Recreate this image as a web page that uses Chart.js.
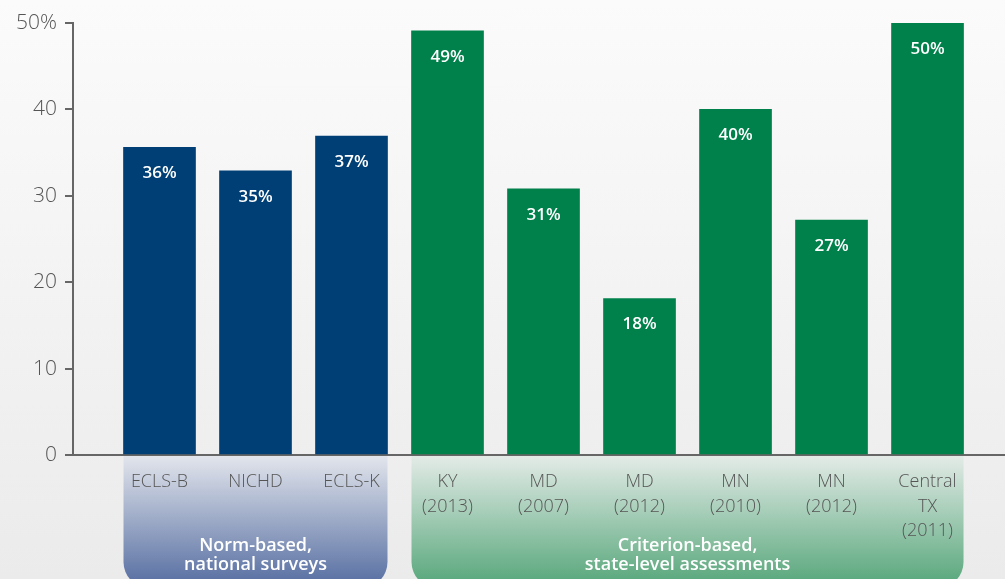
<!DOCTYPE html>
<html>
<head>
<meta charset="utf-8">
<script src="https://cdn.jsdelivr.net/npm/chart.js@4"></script>
<style>
  html, body { margin: 0; padding: 0; }
  body { width: 1005px; height: 579px; background: linear-gradient(#fbfbfb, #ebebeb); overflow: hidden; }
  #wrap { width: 1005px; height: 579px; }
</style>
</head>
<body>
<div id="wrap"><canvas id="chart"></canvas></div>
<script>
const categories = [
  ['ECLS-B'], ['NICHD'], ['ECLS-K'],
  ['KY', '(2013)'], ['MD', '(2007)'], ['MD', '(2012)'],
  ['MN', '(2010)'], ['MN', '(2012)'], ['Central', 'TX', '(2011)']
];
const values = [35.6, 32.9, 36.9, 49.1, 30.8, 18.1, 40.0, 27.2, 50.0];
const valueLabels = ['36%', '35%', '37%', '49%', '31%', '18%', '40%', '27%', '50%'];
const yTicks = [0, 10, 20, 30, 40, 50];
const groups = [
  { name: ['Norm-based,', 'national surveys'], from: 0, to: 2 },
  { name: ['Criterion-based,', 'state-level assessments'], from: 3, to: 8 }
];

const navy = '#003f75';
const green = '#00804a';
const font = '"Open Sans", Lato, sans-serif';

// boxes under the x axis for the two groups (drawn before the scales)
const groupBoxes = {
  id: 'groupBoxes',
  beforeDraw(chart) {
    const ctx = chart.ctx;
    const x = chart.scales.x;
    const top = chart.chartArea.bottom + 1;
    const half = 36;
    const colors = [['#e2e5ec', '#5d74a5'], ['#e3ebe7', '#5eaa80']];
    groups.forEach((g, i) => {
      const left = x.getPixelForValue(g.from) - half;
      const right = x.getPixelForValue(g.to) + half;
      const bottom = top + 132;
      const grad = ctx.createLinearGradient(0, top, 0, 579);
      grad.addColorStop(0, colors[i][0]);
      grad.addColorStop(1, colors[i][1]);
      ctx.save();
      ctx.fillStyle = grad;
      ctx.beginPath();
      ctx.roundRect(left, top, right - left, bottom - top, [0, 0, 26, 26]);
      ctx.fill();
      ctx.fillStyle = '#ffffff';
      ctx.font = '600 18px ' + font;
      ctx.textAlign = 'center';
      ctx.textBaseline = 'middle';
      g.name.forEach((line, j) => {
        ctx.fillText(line, (left + right) / 2, 546 + j * 19);
      });
      ctx.restore();
    });
  }
};

// percentage labels inside the bars
const barLabels = {
  id: 'barLabels',
  afterDatasetsDraw(chart) {
    const ctx = chart.ctx;
    ctx.save();
    ctx.fillStyle = '#ffffff';
    ctx.font = '600 17px ' + font;
    ctx.textAlign = 'center';
    ctx.textBaseline = 'middle';
    chart.getDatasetMeta(0).data.forEach((bar, i) => {
      ctx.fillText(valueLabels[i], bar.x, bar.y + 26);
    });
    ctx.restore();
  }
};

new Chart(document.getElementById('chart'), {
  type: 'bar',
  data: {
    datasets: [{
      data: values.map((v, i) => ({ x: i, y: v })),
      backgroundColor: values.map((v, i) => i < 3 ? navy : green),
      barThickness: 72,
      borderWidth: 0
    }]
  },
  options: {
    responsive: true,
    maintainAspectRatio: false,
    animation: false,
    layout: { padding: { top: 23, right: 0, left: 0, bottom: 0 } },
    plugins: { legend: { display: false }, tooltip: { enabled: false } },
    scales: {
      x: {
        type: 'linear',
        offset: false,
        min: -0.901,
        max: 8.807,
        afterBuildTicks: s => { s.ticks = categories.map((c, i) => ({ value: i })); },
        afterFit: s => { s.height = 124; },
        grid: { display: false, drawTicks: false },
        border: { display: true, color: '#666', width: 2 },
        ticks: {
          autoSkip: false,
          maxRotation: 0,
          padding: 15,
          color: '#555',
          font: { family: font, size: 18, weight: 300, lineHeight: 1.35 },
          callback: v => categories[v]
        }
      },
      y: {
        min: 0,
        max: 50,
        afterBuildTicks: s => { s.ticks = yTicks.map(v => ({ value: v })); },
        afterFit: s => { s.width = 73; },
        grid: { drawOnChartArea: false, drawTicks: true, tickLength: 8, color: '#666', lineWidth: 2 },
        border: { display: true, color: '#666', width: 2 },
        ticks: {
          padding: 8,
          color: '#555',
          font: { family: font, size: 21, weight: 300 },
          callback: v => v === 50 ? '50%' : String(v)
        }
      }
    }
  },
  plugins: [groupBoxes, barLabels]
});
</script>
</body>
</html>
